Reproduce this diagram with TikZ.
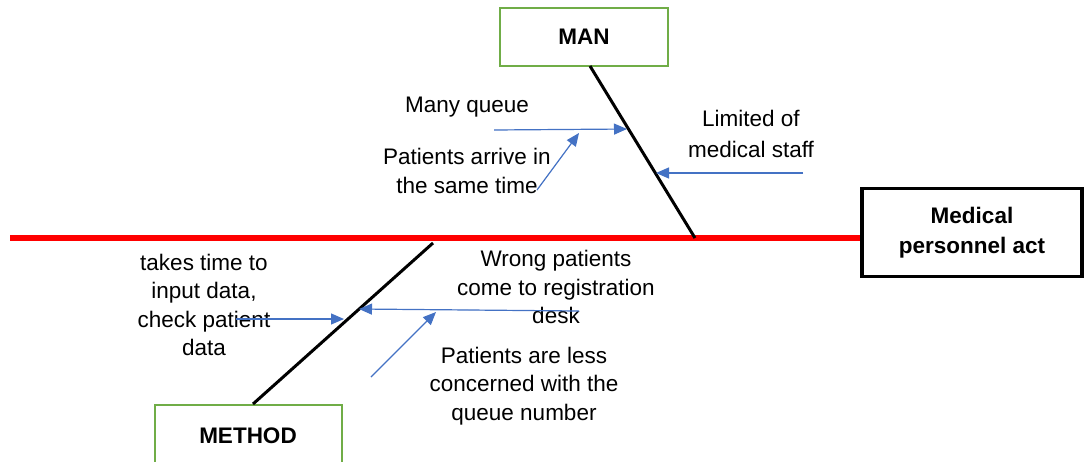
\documentclass[tikz,border=0pt]{standalone}
\usepackage{fontspec}
\setmainfont{Liberation Sans}
\usetikzlibrary{arrows.meta,calc}
\definecolor{bluearr}{HTML}{4472C4}
\definecolor{greenbox}{HTML}{70AD47}
\definecolor{spinered}{HTML}{FF0000}
\begin{document}
\begin{tikzpicture}[x=1pt,y=-1pt,
  lbl/.style={align=center,inner sep=0pt,font=\fontsize{22.5}{28.5}\selectfont},
  catbox/.style={draw=greenbox,line width=2pt,inner sep=0pt},
  cattext/.style={inner sep=0pt,font=\bfseries\fontsize{22.5}{27}\selectfont},
  bone/.style={line width=3pt,black},
  cause/.style={draw=bluearr,line width=1.2pt,-{Triangle[length=13pt,width=11pt]},fill=bluearr}]
\clip (0,0) rectangle (1085,461);
% effect box and spine
\node[draw,line width=3.5pt,minimum width=220pt,minimum height=88pt,align=center,
      font=\bfseries\fontsize{22.5}{30}\selectfont] (effect) at (972,232.5) {Medical\\personnel act};
\coordinate (spinestart) at (10,238);
\draw[spinered,line width=6pt] (spinestart) -- (effect.west |- spinestart);
% MAN
\node[catbox,minimum width=168pt,minimum height=58pt] (man) at (584,37) {};
\node[cattext] (mantxt) at (man.center) {MAN};
\coordinate (mantop) at (590,66);
\coordinate (manend) at (695,238);
\draw[bone] (mantop) -- (manend);
% METHOD
\node[catbox,minimum width=187pt,minimum height=90pt,anchor=north] (method) at (248.5,404) {};
\node[cattext] (methodtxt) at (248,436) {METHOD};
\coordinate (methtop) at (433,243);
\coordinate (methbot) at (253,404);
\draw[bone] (methbot) -- (methtop);
% MAN causes
\node[lbl] (mq) at (467,107) {Many queue};
\coordinate (mqs) at (494,130);
\coordinate (mqe) at (627,129);
\draw[cause] (mqs) -- (mqe);
\node[lbl] (pa) at (467,171) {Patients arrive in\\the same time};
\coordinate (pas) at (537,190);
\coordinate (pae) at (579,133);
\draw[cause] (pas) -- (pae);
\node[lbl,font=\fontsize{22.5}{31}\selectfont] (lm) at (751,134) {Limited of\\medical staff};
\coordinate (lms) at (803,173);
\coordinate (lme) at (656,173);
\draw[cause] (lms) -- (lme);
% METHOD causes
\node[lbl] (tt) at (204,305) {takes time to\\input data,\\check patient\\data};
\coordinate (tts) at (236,319);
\coordinate (tte) at (344,319);
\draw[cause] (tts) -- (tte);
\node[lbl] (wp) at (556,287) {Wrong patients\\come to registration\\desk};
\coordinate (wps) at (579,311);
\coordinate (wpe) at (359,309);
\draw[cause] (wps) -- (wpe);
\node[lbl] (pl) at (524,386) {Patients are less\\concerned with the\\queue number};
\coordinate (pls) at (371,377);
\coordinate (ple) at (436,312);
\draw[cause] (pls) -- (ple);
\end{tikzpicture}
\end{document}
